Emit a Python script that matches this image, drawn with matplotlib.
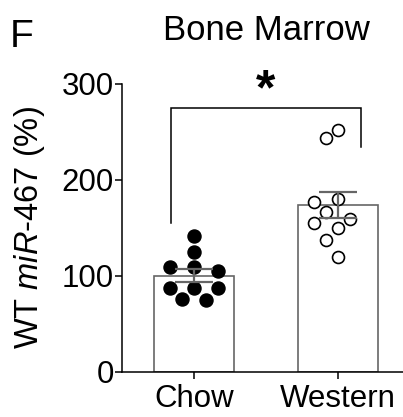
import matplotlib
matplotlib.use("Agg")
import matplotlib.pyplot as plt
import numpy as np

# ---- data ----
groups = ["Chow", "Western"]
chow = [141.8, 125.1, 108.8, 108.8, 104.6, 86.9, 86.9, 86.9, 76.1, 74.7]
western = [251.6, 244.0, 179.7, 176.6, 166.8, 159.5, 154.7, 150.2, 137.3, 119.9]
yticks = [0, 100, 200, 300]
title = "Bone Marrow"
panel = "F"
ylabel = "WT $\\mathit{miR}$-$\\mathit{467}$ (%)"
sig = "*"

plt.rcParams["font.family"] = ["Liberation Sans", "DejaVu Sans"]
plt.rcParams["mathtext.fontset"] = "custom"
plt.rcParams["mathtext.rm"] = "Liberation Sans"
plt.rcParams["mathtext.it"] = "Liberation Sans:italic"

W, H = 403, 417
fig = plt.figure(figsize=(W / 100, H / 100), dpi=100)
ax_l, ax_r, ax_b, ax_t = 122.3, 403, 371.7, 84
ax = fig.add_axes([ax_l / W, 1 - ax_b / H, (ax_r - ax_l) / W, (ax_b - ax_t) / H])
ax.set_ylim(0, 300)
ax.set_xlim(-0.498, 1.451)

gray = "#666666"
data = [chow, western]
means = [np.mean(d) for d in data]
sems = [np.std(d, ddof=1) / np.sqrt(len(d)) for d in data]
xs = np.arange(len(groups))

ax.bar(xs, means, width=0.56, color="white", edgecolor=gray, linewidth=1.2, zorder=1)


def swarm(x0, vals, step_px=11.8, dmin_px=13.8):
    """Place points on discrete horizontal slots avoiding overlap (display coords)."""
    placed = []
    out = []
    for v in vals:
        px, py = ax.transData.transform((x0, v))
        k_order = [0]
        for k in range(1, 10):
            k_order += [-k, k]
        for k in k_order:
            cx = px + k * step_px
            if all(np.hypot(cx - qx, py - qy) >= dmin_px for qx, qy in placed):
                placed.append((cx, py))
                out.append(ax.transData.inverted().transform((cx, py))[0])
                break
    return np.array(out)


ms = 9.4
for i, d in enumerate(data):
    sx = swarm(xs[i], d)
    if i == 0:
        ax.plot(sx, d, "o", ms=ms, mfc="black", mec="black", mew=1.0, ls="none", zorder=3)
    else:
        ax.plot(sx, d, "o", ms=ms - 0.8, mfc="white", mec="black", mew=1.2, ls="none", zorder=3)

ax.errorbar(xs, means, yerr=sems, fmt="none", ecolor=gray, elinewidth=1.6,
            capsize=14, capthick=1.6, zorder=4)

# significance bracket
bx0, bx1 = xs[0] - 0.162, xs[1] + 0.16
by = 275.3
ax.plot([bx0, bx0, bx1, bx1], [154.7, by, by, 234.0], color="black", lw=1.1,
        solid_joinstyle="miter", zorder=2, clip_on=False)
ax.text((xs[0] + xs[1]) / 2, 279, sig, ha="center", va="baseline", fontsize=36,
        fontweight="bold")

for s in ["top", "right"]:
    ax.spines[s].set_visible(False)
for s in ["left", "bottom"]:
    ax.spines[s].set_linewidth(1.1)
ax.set_yticks(yticks)
ax.set_xticks(xs)
ax.set_xticklabels(groups)
ax.tick_params(axis="y", length=5, width=1.1, pad=1, labelsize=22.5)
ax.tick_params(axis="x", length=5, width=1.1, pad=3.5, labelsize=22.5)

fig.text(30 / W, 1 - 228 / H, ylabel, rotation=90, ha="center", va="center", fontsize=23.5)
fig.text(266 / W, 1 - 40 / H, title, ha="center", va="baseline", fontsize=25)
fig.text(10 / W, 1 - 46.7 / H, panel, ha="left", va="baseline", fontsize=28)

fig.savefig("out.png", dpi=100)
